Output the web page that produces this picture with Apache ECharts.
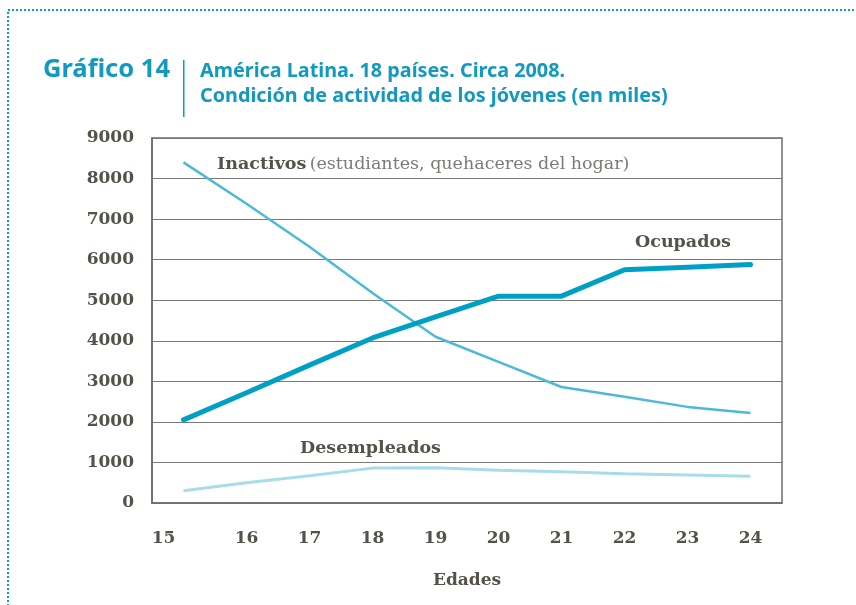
<!DOCTYPE html>
<html>
<head>
<meta charset="utf-8">
<script src="https://cdn.jsdelivr.net/npm/echarts@6/dist/echarts.min.js"></script>
<style>
  html, body { margin: 0; padding: 0; background: #fff; }
  #chart { width: 856px; height: 605px; }
</style>
</head>
<body>
<div id="chart"></div>
<script>
// edades (eje x) y valores en miles
const ages = [15, 16, 17, 18, 19, 20, 21, 22, 23, 24]
const ocupados = [2050, 2720, 3400, 4070, 4590, 5100, 5100, 5750, 5810, 5880]
const inactivos = [8400, 7380, 6320, 5180, 4100, 3480, 2860, 2620, 2370, 2220]
const desempleados = [300, 500, 670, 860, 870, 810, 770, 720, 690, 660]
const yTicks = [0, 1000, 2000, 3000, 4000, 5000, 6000, 7000, 8000, 9000]

const teal = '#1199c0'
const ink = '#55524a'
const serif = '"DejaVu Serif", serif'

const pairs = arr => ages.map((a, i) => [a, arr[i]])

const chart = echarts.init(document.getElementById('chart'))

chart.setOption({
  animation: false,
  backgroundColor: '#fff',
  grid: {
    left: 152,
    right: 74,
    top: 138,
    bottom: 102,
    show: true,
    borderColor: '#6e6d68',
    borderWidth: 1.5
  },
  xAxis: {
    type: 'value',
    min: 14.5,
    max: 24.5,
    name: 'Edades',
    nameLocation: 'middle',
    nameGap: 69,
    nameTextStyle: { fontFamily: serif, fontWeight: 'bold', fontSize: 17, color: ink },
    axisLine: { show: true, lineStyle: { color: '#6e6d68', width: 1.5 } },
    axisTick: { show: false },
    splitLine: { show: false },
    axisLabel: {
      customValues: ages,
      margin: 27,
      fontFamily: serif,
      fontWeight: 'bold',
      fontSize: 17,
      color: ink,
      // the "15" label sits left of its point in the original
      formatter: v => v === 15 ? '{s|15}' : String(v),
      rich: { s: { padding: [0, 40, 0, 0], fontFamily: serif, fontWeight: 'bold', fontSize: 17, color: ink } }
    }
  },
  yAxis: {
    type: 'value',
    min: 0,
    max: 9000,
    interval: 1000,
    axisLine: { show: true, lineStyle: { color: '#6e6d68', width: 1.5 } },
    axisTick: { show: false },
    splitLine: { show: true, lineStyle: { color: '#7a7975', width: 1.2 } },
    axisLabel: {
      customValues: yTicks,
      margin: 18,
      fontFamily: serif,
      fontWeight: 'bold',
      fontSize: 17,
      color: ink,
      formatter: v => String(v)
    }
  },
  series: [{
    name: 'Inactivos',
    type: 'line',
    data: pairs(inactivos),
    showSymbol: false,
    lineStyle: { color: '#4cbad6', width: 2.5 }
  }, {
    name: 'Desempleados',
    type: 'line',
    data: pairs(desempleados),
    showSymbol: false,
    lineStyle: { color: '#a9dce9', width: 3 }
  }, {
    name: 'Ocupados',
    type: 'line',
    data: pairs(ocupados),
    showSymbol: false,
    lineStyle: { color: '#00a0c6', width: 5, cap: 'round', join: 'round' }
  }],
  graphic: [
    // dotted frame
    {
      type: 'rect',
      shape: { x: 8, y: 10, width: 900, height: 700 },
      style: { fill: 'none', stroke: teal, lineWidth: 2, lineDash: [2, 2] },
      silent: true
    },
    {
      type: 'text', left: 43, top: 57,
      style: { text: 'Gráfico 14', font: 'bold 25.5px "Noto Sans"', fill: teal }
    },
    {
      type: 'rect',
      shape: { x: 183, y: 60, width: 1.5, height: 57 },
      style: { fill: teal }
    },
    {
      type: 'text', left: 200, top: 59,
      style: {
        text: 'América Latina. 18 países. Circa 2008.\nCondición de actividad de los jóvenes (en miles)',
        font: 'bold 19.8px "Noto Sans"', lineHeight: 25, fill: teal
      }
    },
    {
      type: 'text', left: 217, top: 155,
      style: {
        text: '{b|Inactivos} {r|(estudiantes, quehaceres del hogar)}',
        rich: {
          b: { fontFamily: serif, fontWeight: 'bold', fontSize: 17.5, fill: ink },
          r: { fontFamily: serif, fontSize: 17.5, fill: '#7b7a75' }
        }
      }
    },
    {
      type: 'text', left: 635, top: 233,
      style: { text: 'Ocupados', font: 'bold 17.5px ' + serif, fill: ink }
    },
    {
      type: 'text', left: 300, top: 439,
      style: { text: 'Desempleados', font: 'bold 17.5px ' + serif, fill: ink }
    }
  ]
})
</script>
</body>
</html>
